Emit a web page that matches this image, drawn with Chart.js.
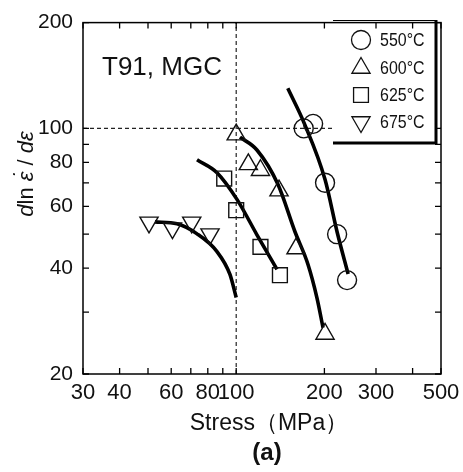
<!DOCTYPE html>
<html>
<head>
<meta charset="utf-8">
<script src="https://cdn.jsdelivr.net/npm/chart.js@4/dist/chart.umd.min.js"></script>
<style>
  html, body { margin: 0; padding: 0; background: #fff; }
</style>
</head>
<body>
<canvas id="chart" width="463" height="472"></canvas>
<script>
const FONT = "'Liberation Sans', Arial, Helvetica, sans-serif";

// measured points (stress MPa, d ln(strain rate)/d strain)
const t550x = [170, 183, 201, 221, 239];
const t550y = [100, 103, 70, 50, 37];
const t600x = [100, 110, 121, 140, 160, 201];
const t600y = [96, 79, 76, 66.5, 45.5, 26];
const t625x = [91, 100, 121, 141];
const t625y = [72, 58.5, 46, 38.2];
const t675x = [50.4, 60.6, 70.5, 81.4];
const t675y = [54, 52, 54, 50];

// hand-drawn fit curves
const fit550x = [150, 171, 201, 221, 241];
const fit550y = [130, 103, 71.5, 50.7, 38.5];
const fit600x = [103, 117.7, 138.9, 158.7, 175.8, 188.7, 197.8];
const fit600y = [94.4, 86.8, 69.2, 50.8, 41.0, 32.9, 27.1];
const fit625x = [73.5, 86, 100.6, 117.7, 137.8];
const fit625y = [81.4, 74.8, 62.8, 49.8, 39.7];
const fit675x = [52.8, 62.8, 73.5, 86, 95.2, 100];
const fit675y = [54.2, 53.5, 50.1, 44.6, 38.4, 33];

const xTicks = [30, 40, 50, 60, 70, 80, 90, 100, 200, 300, 400, 500];
const xLabels = [30, 40, 60, 80, 100, 200, 300, 500];
const yTicks = [20, 30, 40, 50, 60, 70, 80, 90, 100, 200];
const yLabels = [20, 40, 60, 80, 100, 200];

const refX = [100, 100];
const refXy = [20, 200];
const refYx = [30, 500];
const refY = [100, 100];

const seriesNames = ["550°C", "600°C", "625°C", "675°C"];
const seriesStyles = [
    { pointStyle: "circle", rotation: 0, radius: 9.5 },
    { pointStyle: "triangle", rotation: 0, radius: 10.5 },
    { pointStyle: "rect", rotation: 0, radius: 10.5 },
    { pointStyle: "triangle", rotation: 180, radius: 10.5 },
];

const zip = (xs, ys) => xs.map((x, i) => ({ x: x, y: ys[i] }));

function markerSet(xs, ys, s) {
    return {
        data: zip(xs, ys),
        showLine: false,
        pointStyle: s.pointStyle,
        rotation: s.rotation,
        pointRadius: s.radius,
        pointBorderWidth: 1.4,
        pointBorderColor: "#111",
        pointBackgroundColor: "rgba(0,0,0,0)",
    };
}

function curveSet(xs, ys) {
    return {
        data: zip(xs, ys),
        showLine: true,
        borderColor: "#000",
        borderWidth: 3.6,
        cubicInterpolationMode: "monotone",
        pointRadius: 0,
        fill: false,
    };
}

function dashSet(xs, ys) {
    return {
        data: zip(xs, ys),
        showLine: true,
        borderColor: "#222",
        borderWidth: 1.2,
        borderDash: [4, 3],
        pointRadius: 0,
        fill: false,
    };
}

const datasets = [
    markerSet(t550x, t550y, seriesStyles[0]),
    markerSet(t600x, t600y, seriesStyles[1]),
    markerSet(t625x, t625y, seriesStyles[2]),
    markerSet(t675x, t675y, seriesStyles[3]),
    curveSet(fit550x, fit550y),
    curveSet(fit600x, fit600y),
    curveSet(fit625x, fit625y),
    curveSet(fit675x, fit675y),
    dashSet(refX, refXy),
    dashSet(refYx, refY),
];

// legend box, frame, inward ticks and the free text
const decorPlugin = {
    id: "decor",
    afterDatasetsDraw(chart) {
        const ctx = chart.ctx;
        ctx.save();
        // legend box with heavy right/bottom edge
        const L = 333, T = 20, R = 436, B = 143;
        ctx.fillStyle = "#fff";
        ctx.fillRect(L, T, R - L, B - T);
        ctx.strokeStyle = "#000";
        ctx.lineWidth = 1;
        ctx.beginPath();
        ctx.moveTo(L, T + 0.5);
        ctx.lineTo(R, T + 0.5);
        ctx.stroke();
        ctx.lineWidth = 3;
        ctx.beginPath();
        ctx.moveTo(L, B);
        ctx.lineTo(R, B);
        ctx.lineTo(R, T);
        ctx.stroke();

        const rows = [40, 68, 95, 122];
        seriesNames.forEach((name, i) => {
            const s = seriesStyles[i];
            ctx.strokeStyle = "#111";
            ctx.fillStyle = "rgba(0,0,0,0)";
            ctx.lineWidth = 1.3;
            Chart.helpers.drawPoint(ctx, {
                pointStyle: s.pointStyle,
                rotation: s.rotation,
                radius: s.radius,
                borderWidth: 1.3,
            }, 361, rows[i]);
            // the legend type is a narrow face
            ctx.save();
            ctx.translate(380, rows[i] + 1);
            ctx.scale(0.84, 1);
            ctx.fillStyle = "#111";
            ctx.font = "19px " + FONT;
            ctx.textAlign = "left";
            ctx.textBaseline = "middle";
            ctx.fillText(name, 0, 0);
            ctx.restore();
        });
        ctx.restore();
    },
    afterDraw(chart) {
        const ctx = chart.ctx;
        const a = chart.chartArea;
        const xs = chart.scales.x, ys = chart.scales.y;
        ctx.save();
        ctx.strokeStyle = "#000";
        ctx.lineWidth = 1.5;
        ctx.strokeRect(a.left, a.top, a.right - a.left, a.bottom - a.top);

        const tl = 6;
        ctx.lineWidth = 1.3;
        ctx.beginPath();
        xTicks.forEach(v => {
            const px = xs.getPixelForValue(v);
            ctx.moveTo(px, a.bottom);
            ctx.lineTo(px, a.bottom - tl);
            ctx.moveTo(px, a.top);
            ctx.lineTo(px, a.top + tl);
        });
        yTicks.forEach(v => {
            const py = ys.getPixelForValue(v);
            ctx.moveTo(a.left, py);
            ctx.lineTo(a.left + tl, py);
            ctx.moveTo(a.right, py);
            ctx.lineTo(a.right - tl, py);
        });
        ctx.stroke();

        ctx.fillStyle = "#111";
        ctx.textBaseline = "middle";
        ctx.textAlign = "left";
        ctx.font = "26px " + FONT;
        ctx.fillText("T91, MGC", 102, 68);

        ctx.textAlign = "center";
        ctx.font = "23px " + FONT;
        ctx.fillText("Stress（MPa）", 269, 424);
        ctx.font = "bold 24px " + FONT;
        ctx.fillText("(a)", 267, 453);

        // y title: d ln (eps dot) / d eps, rotated
        ctx.translate(33, 174);
        ctx.rotate(-Math.PI / 2);
        ctx.textAlign = "left";
        ctx.textBaseline = "alphabetic";
        const parts = [
            { t: "d", f: "italic 22px " + FONT },
            { t: "ln ", f: "22px " + FONT },
            { t: "ε", f: "italic 22px " + FONT, dot: true },
            { t: " / ", f: "22px " + FONT },
            { t: "d", f: "italic 22px " + FONT },
            { t: "ε", f: "italic 22px " + FONT },
        ];
        let total = 0;
        parts.forEach(p => { ctx.font = p.f; p.w = ctx.measureText(p.t).width; total += p.w; });
        let cx = -total / 2;
        parts.forEach(p => {
            ctx.font = p.f;
            ctx.fillText(p.t, cx, 0);
            if (p.dot) {
                ctx.textAlign = "center";
                ctx.fillText("˙", cx + p.w / 2 + 1, -4);
                ctx.textAlign = "left";
            }
            cx += p.w;
        });
        ctx.restore();
    },
};

new Chart(document.getElementById("chart"), {
    type: "scatter",
    data: { datasets: datasets },
    options: {
        responsive: false,
        animation: false,
        layout: { padding: { top: 18, right: 22, left: 0, bottom: 0 } },
        plugins: { legend: { display: false }, tooltip: { enabled: false } },
        scales: {
            x: {
                type: "logarithmic",
                min: 30,
                max: 500,
                grid: { display: false, drawTicks: false },
                border: { display: false },
                afterBuildTicks: s => { s.ticks = xTicks.map(v => ({ value: v })); },
                afterFit: s => { s.height = 98; s.paddingRight = 20; s.paddingLeft = 12; },
                ticks: {
                    autoSkip: false,
                    maxRotation: 0,
                    padding: 6,
                    color: "#111",
                    font: { family: FONT, size: 22 },
                    callback: v => (xLabels.includes(v) ? String(v) : ""),
                },
            },
            y: {
                type: "logarithmic",
                min: 20,
                max: 200,
                grid: { display: false, drawTicks: false },
                border: { display: false },
                afterBuildTicks: s => { s.ticks = yTicks.map(v => ({ value: v })); },
                afterFit: s => { s.width = 83; },
                ticks: {
                    autoSkip: false,
                    padding: 10,
                    color: "#111",
                    font: { family: FONT, size: 21 },
                    callback: v => (yLabels.includes(v) ? String(v) : ""),
                },
            },
        },
    },
    plugins: [decorPlugin],
});
</script>
</body>
</html>
